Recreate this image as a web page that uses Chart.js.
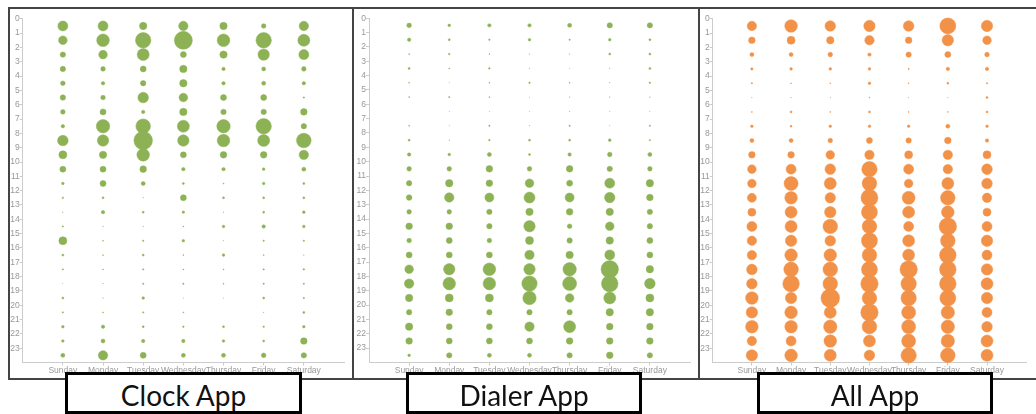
<!DOCTYPE html>
<html>
<head>
<meta charset="utf-8">
<script src="https://cdn.jsdelivr.net/npm/chart.js@4.4.1/dist/chart.umd.min.js"></script>
<style>
  body { margin: 0; background: #fff; width: 1036px; height: 414px; overflow: hidden; position: relative; }
  .frame { position: absolute; top: 7px; left: 8px; width: 1040px; height: 369px; border: 2px solid #444; border-right: none; }
  .divider { position: absolute; top: 7px; width: 2px; height: 371px; background: #444; }
  canvas { position: absolute; top: 9px; }
  .label { position: absolute; top: 372px; height: 36px; border: 3px solid #000; background: #fff;
           font-family: Lato, "Open Sans", sans-serif; font-size: 28px; color: #111;
           text-align: center; line-height: 40px; box-sizing: content-box; }
</style>
</head>
<body>
<div class="frame"></div>
<div class="divider" style="left:352px"></div>
<div class="divider" style="left:698px"></div>
<canvas id="clock" width="346" height="369" style="left:8px"></canvas>
<canvas id="dialer" width="347" height="369" style="left:353px"></canvas>
<canvas id="all" width="337" height="369" style="left:699px"></canvas>
<div class="label" style="left:65px; width:231px">Clock App</div>
<div class="label" style="left:406px; width:230px">Dialer App</div>
<div class="label" style="left:757px; width:230px">All App</div>
<script>
const days = ['Sunday', 'Monday', 'Tuesday', 'Wednesday', 'Thursday', 'Friday', 'Saturday'];
const hours = ['0','1','2','3','4','5','6','7','8','9','10','11','12','13','14','15','16','17','18','19','20','21','22','23'];

// bubble size per hour (rows) and day (columns, Sunday..Saturday)
const clockSizes = [
  [5, 5, 3.7, 4.7, 3.7, 2.3, 4.7],
  [4.3, 6.3, 7.7, 9, 6.3, 7.7, 6],
  [2.7, 4.3, 6, 3, 3.7, 5.7, 5],
  [2.7, 2.3, 3, 3.7, 1.7, 2, 2.3],
  [2.3, 1.7, 2.7, 3.7, 1.7, 2, 1.7],
  [2.7, 2.3, 5.3, 4.3, 3, 3, 0.7],
  [2.3, 3, 1.7, 3.7, 2.7, 2.7, 3.3],
  [1.7, 6.7, 7.3, 6, 6.7, 7.7, 2.7],
  [5.3, 5.7, 9.3, 5.7, 6.3, 6, 7.3],
  [4, 3.7, 6.3, 3, 3.3, 3.3, 4.7],
  [3, 3, 3.3, 1.7, 1.7, 1.3, 2],
  [1.3, 3, 2, 1, 0.5, 1.3, 1],
  [0.8, 1, 0.3, 3, 1, 1, 1],
  [0.3, 1.7, 1, 1.2, 0.3, 1, 1.3],
  [0.7, 0.3, 0.3, 0.5, 1.3, 1.7, 1.3],
  [4, 0.5, 0.7, 1.3, 0.3, 0.7, 0.7],
  [1, 0.5, 1, 0.5, 1.3, 0.5, 0.3],
  [0.7, 0.5, 0.7, 0.5, 0.5, 0.7, 0.8],
  [0.2, 0.3, 0.7, 0.7, 0.5, 0.7, 0.7],
  [1, 0.3, 1.3, 0.2, 0.2, 1, 0.7],
  [0.7, 0.5, 0.7, 0.5, 0, 0.3, 1],
  [1.3, 1.7, 1, 0.8, 1, 0.8, 1.3],
  [1.3, 2, 1.7, 1.7, 1.3, 1, 3.3],
  [2, 4.7, 3, 2, 2, 2.3, 2.7]
];

const dialerSizes = [
  [2.3, 1.3, 1.7, 1.7, 2, 2.7, 2.7],
  [1.7, 1, 0.8, 1.3, 0.7, 1.3, 1],
  [0.5, 0.8, 0.5, 0.3, 0.3, 1, 1],
  [1, 0.5, 0.8, 0.3, 0.2, 0.3, 1],
  [0.5, 0.2, 0.5, 0.8, 0.5, 0.3, 0.8],
  [0.5, 0.7, 0.5, 0.2, 0.3, 0.3, 0.3],
  [0, 0.2, 0.2, 0.2, 0.3, 0.2, 0.2],
  [0.5, 0.2, 0.7, 0.3, 0.7, 0.2, 0.7],
  [1, 0.3, 0.8, 1, 1, 1.3, 0.7],
  [1.7, 1.3, 2, 1, 1.7, 2.3, 2],
  [2.3, 2.3, 3.3, 2.3, 3.3, 2.7, 2.3],
  [2.7, 3.7, 3.3, 4.3, 3, 5, 3.7],
  [2.8, 4.7, 4.5, 5.5, 4.5, 5.2, 3.3],
  [2.3, 2.3, 2.7, 3.7, 3.3, 3.7, 2.7],
  [3.3, 3.3, 2.7, 5.7, 2.3, 4.3, 2.7],
  [2.3, 3, 2.3, 4, 2.7, 3.7, 3],
  [3, 3, 3, 4.7, 3.7, 5, 3],
  [4.3, 5.7, 6.3, 5.7, 6.7, 8.7, 3.7],
  [4.7, 6.3, 6.3, 7.7, 7, 8.3, 5.3],
  [3.7, 4, 4, 6.7, 4.3, 6, 4],
  [2.7, 3.3, 2.7, 2.7, 2.7, 3.7, 3.7],
  [3.7, 3, 3, 4.7, 6, 3.3, 3.3],
  [3.3, 3, 3, 3, 3.3, 3.3, 3.3],
  [1.3, 2.7, 2, 2, 2.7, 3.3, 2.7]
];

const allSizes = [
  [4.7, 6.3, 5.3, 5.7, 5.3, 8, 5.7],
  [3.3, 4, 3.7, 4.7, 3.3, 5.7, 4.3],
  [2, 2, 2.3, 1.7, 2.7, 3, 2.3],
  [1.2, 1.3, 1.3, 1.3, 0.7, 1.7, 1.7],
  [0.7, 0.5, 0.5, 1.3, 0.5, 1, 0.7],
  [0.3, 0.3, 0.3, 0.5, 0.3, 0.3, 1],
  [0.5, 1, 0.5, 1, 0.5, 0.5, 1],
  [1.3, 1, 1.3, 1.3, 1.3, 2, 1.3],
  [2, 2, 2.3, 3, 2.7, 3.3, 1.7],
  [3.3, 3.3, 4.3, 4.7, 4, 4.7, 4],
  [4.3, 5, 5.3, 7.7, 5, 4.7, 5.3],
  [4.3, 7, 6, 7.3, 4.3, 6, 5.3],
  [4.5, 6.3, 5.2, 8.5, 6.5, 7.3, 4.7],
  [4, 6, 5.7, 8, 6, 6.3, 4],
  [5, 6, 7.3, 7.3, 5, 8.7, 5],
  [4.7, 5.7, 5.3, 8, 6, 7.3, 5.7],
  [4.7, 6.3, 6.3, 7.3, 6, 8.3, 5],
  [5.3, 7.3, 7.3, 8, 8.7, 8.3, 5.7],
  [5.3, 8.3, 7.3, 8.7, 7.7, 8.3, 6],
  [6.3, 5.7, 9.3, 7.3, 7.7, 8, 5.7],
  [5.7, 6.3, 6, 8.7, 7, 6.7, 5],
  [6.3, 6.3, 6.7, 7.3, 7, 6.7, 5.3],
  [4.7, 5, 6.3, 6, 7, 6.7, 6],
  [5.7, 6.3, 6, 5.3, 7.7, 7.3, 6]
];

function bubbleChart(id, sizes, color, axisWidth, rightPad) {
    const points = [];
    sizes.forEach((row, h) => {
        row.forEach((v, d) => {
            points.push({ x: d, y: h + 0.5, r: v });
        });
    });

    const tickFont = { family: 'Arial, "Liberation Sans", sans-serif', size: 8.5 };

    new Chart(document.getElementById(id), {
        type: 'bubble',
        data: {
            datasets: [{
                data: points,
                backgroundColor: color,
                borderColor: color,
                borderWidth: 0.5,
                clip: false
            }]
        },
        options: {
            responsive: false,
            animation: false,
            layout: {
                padding: { top: 8.5, right: rightPad, left: 0, bottom: 0 }
            },
            plugins: {
                legend: { display: false },
                tooltip: { enabled: false }
            },
            scales: {
                x: {
                    type: 'linear',
                    min: -1,
                    max: 7,
                    afterBuildTicks: s => { s.ticks = days.map((d, i) => ({ value: i })); },
                    afterFit: s => { s.height = 15.5; },
                    grid: { drawOnChartArea: false, tickLength: 3, color: '#ccc' },
                    border: { color: '#ccc' },
                    ticks: {
                        autoSkip: false,
                        maxRotation: 0,
                        minRotation: 0,
                        padding: 0,
                        color: '#999',
                        font: tickFont,
                        callback: v => days[v]
                    }
                },
                y: {
                    type: 'linear',
                    reverse: true,
                    min: 0,
                    max: 24,
                    afterBuildTicks: s => { s.ticks = hours.map((h, i) => ({ value: i })); },
                    afterFit: s => { s.width = axisWidth; },
                    grid: { drawOnChartArea: false, tickLength: 3, color: '#ccc' },
                    border: { color: '#ccc' },
                    ticks: {
                        padding: 0,
                        color: '#999',
                        font: tickFont,
                        callback: v => hours[v]
                    }
                }
            }
        }
    });
}

bubbleChart('clock', clockSizes, '#8db255', 14.7, 10);
bubbleChart('dialer', dialerSizes, '#8db255', 16, 10);
bubbleChart('all', allSizes, '#f29249', 13.7, 4.5);
</script>
</body>
</html>
